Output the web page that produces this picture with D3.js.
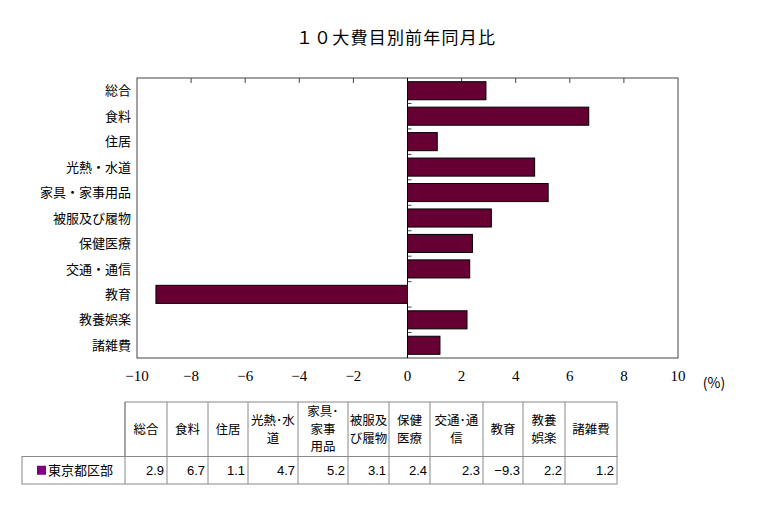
<!DOCTYPE html>
<html><head><meta charset="utf-8">
<script src="https://cdn.jsdelivr.net/npm/d3@7"></script>
<style>body{margin:0;background:#fff}</style>
</head><body>
<script>
const title = "１０大費目別前年同月比";
const categories = ["総合","食料","住居","光熱・水道","家具・家事用品","被服及び履物","保健医療","交通・通信","教育","教養娯楽","諸雑費"];
const tableHeaders = [["総合"],["食料"],["住居"],["光熱･水","道"],["家具･","家事","用品"],["被服及","び履物"],["保健","医療"],["交通･通","信"],["教育"],["教養","娯楽"],["諸雑費"]];
const seriesName = "東京都区部";
const values = [2.9, 6.7, 1.1, 4.7, 5.2, 3.1, 2.4, 2.3, -9.3, 2.2, 1.2];
const xTicks = [-10,-8,-6,-4,-2,0,2,4,6,8,10];
const unitLabel = "(%)";

const W = 760, H = 515;
const svg = d3.select("body").append("svg").attr("width", W).attr("height", H);
const jp = "'Noto Sans CJK JP', sans-serif";
const serif = "'Liberation Serif', 'DejaVu Serif', serif";

svg.append("text").attr("x", 396).attr("y", 44).attr("text-anchor","middle")
  .attr("font-family", jp).attr("font-size", 17).attr("letter-spacing", 1.2).attr("fill","#000").text(title);

const m = {l:137, r:678, t:78, b:358};
const x = d3.scaleLinear().domain([-10,10]).range([m.l, m.r]);
const y = d3.scaleBand().domain(categories).range([m.t, m.b]).paddingInner(0.29).paddingOuter(0.145);
const yb = d3.scaleBand().domain(categories).range([m.t, m.b]);

// frame
svg.append("rect").attr("x", m.l).attr("y", m.t).attr("width", m.r-m.l).attr("height", m.b-m.t)
  .attr("fill","none").attr("stroke","#444").attr("stroke-width",1);

// top inside ticks
svg.append("g").selectAll("line").data(xTicks.filter(d=>d>-10 && d<10 && d!==0)).join("line")
  .attr("x1", d=>x(d)).attr("x2", d=>x(d)).attr("y1", m.t).attr("y2", m.t+5).attr("stroke","#444");

// bars
svg.append("g").selectAll("rect").data(values).join("rect")
  .attr("x", d=>x(Math.min(0,d))).attr("width", d=>Math.abs(x(d)-x(0)))
  .attr("y", (d,i)=>y(categories[i])).attr("height", y.bandwidth())
  .attr("fill","#660033").attr("stroke","#000").attr("stroke-width",1);

// zero axis
svg.append("line").attr("x1", x(0)).attr("x2", x(0)).attr("y1", m.t).attr("y2", m.b).attr("stroke","#000");
svg.append("g").selectAll("line").data(categories.slice(1)).join("line")
  .attr("x1", x(0)).attr("x2", x(0)+4).attr("y1", d=>yb(d)).attr("y2", d=>yb(d)).attr("stroke","#444");

// y labels
svg.append("g").selectAll("text").data(categories).join("text")
  .attr("x", 131).attr("y", d=>yb(d)+yb.bandwidth()/2).attr("dy","0.36em").attr("text-anchor","end")
  .attr("font-family", jp).attr("font-size", 13).attr("fill","#000").text(d=>d);

// x labels
svg.append("g").selectAll("text").data(xTicks).join("text")
  .attr("x", d=>x(d)).attr("y", 381).attr("text-anchor","middle")
  .attr("font-family", serif).attr("font-size", 15).attr("fill","#000").text(d=>d<0? "\u2212"+Math.abs(d) : d);
svg.append("text").attr("x", 714).attr("y", 388).attr("text-anchor","middle")
  .attr("font-family", jp).attr("font-size", 14).attr("fill","#000").text(unitLabel);

// table
const colX = [125,167,208,248,298,348,389,430,483,523,565,617];
const tTop = 402, tMid = 456.5, tBot = 484, tLeft = 22;
const tg = svg.append("g");
const bc = "#888";
tg.append("rect").attr("x", colX[0]).attr("y", tTop).attr("width", colX[11]-colX[0]).attr("height", tMid-tTop).attr("fill","none").attr("stroke",bc);
tg.append("rect").attr("x", tLeft).attr("y", tMid).attr("width", colX[11]-tLeft).attr("height", tBot-tMid).attr("fill","none").attr("stroke",bc);
tg.selectAll("line.c").data(colX.slice(1,11)).join("line").attr("class","c")
  .attr("x1", d=>d).attr("x2", d=>d).attr("y1", tTop).attr("y2", tBot).attr("stroke",bc);
tg.append("line").attr("x1", colX[0]).attr("x2", colX[0]).attr("y1", tTop).attr("y2", tBot).attr("stroke",bc);

const lh = 17.5;
tableHeaders.forEach((lines,i)=>{
  const cx = (colX[i]+colX[i+1])/2;
  const cy = (tTop+tMid)/2;
  const t = tg.append("text").attr("text-anchor","middle").attr("font-family", jp).attr("font-size", 12.5).attr("fill","#000");
  lines.forEach((s,k)=>{
    t.append("tspan").attr("x", cx).attr("y", cy + (k-(lines.length-1)/2)*lh).attr("dy","0.36em").text(s);
  });
});
values.forEach((v,i)=>{
  tg.append("text").attr("x", colX[i+1]-3).attr("y", (tMid+tBot)/2).attr("dy","0.36em").attr("text-anchor","end")
    .attr("font-family","'Liberation Sans Narrow', 'Liberation Sans', sans-serif").attr("font-size", 13).attr("fill","#000")
    .text(v<0 ? "\u2212"+Math.abs(v).toFixed(1) : v.toFixed(1));
});
tg.append("rect").attr("x", 37).attr("y", (tMid+tBot)/2-4.5).attr("width", 9).attr("height", 9).attr("fill","#800080");
tg.append("text").attr("x", 48).attr("y", (tMid+tBot)/2).attr("dy","0.36em").attr("font-family", jp).attr("font-size", 13).attr("fill","#000").text(seriesName);
</script>
</body></html>
